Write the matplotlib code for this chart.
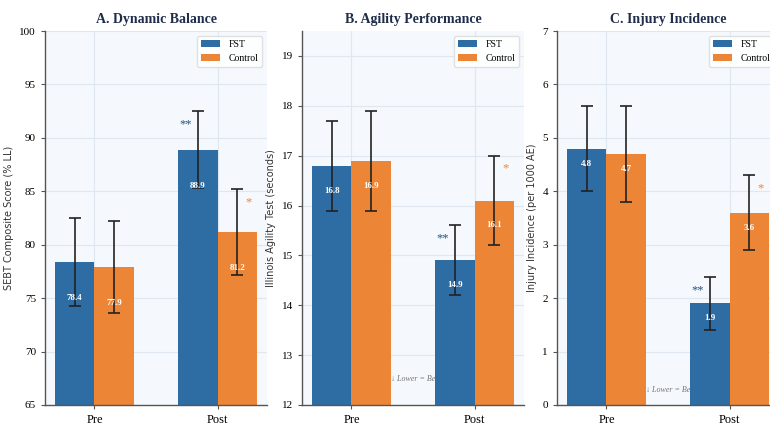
import numpy as np
import matplotlib
matplotlib.use("Agg")
import matplotlib.pyplot as plt

phases = ["Pre", "Post"]
groups = ["FST", "Control"]

balance_fst = [78.4, 88.9]
balance_fst_sd = [4.1, 3.6]
balance_ctl = [77.9, 81.2]
balance_ctl_sd = [4.3, 4.0]

agility_fst = [16.8, 14.9]
agility_fst_sd = [0.9, 0.7]
agility_ctl = [16.9, 16.1]
agility_ctl_sd = [1.0, 0.9]

injury_fst = [4.8, 1.9]
injury_fst_sd = [0.8, 0.5]
injury_ctl = [4.7, 3.6]
injury_ctl_sd = [0.9, 0.7]

titles = ["A. Dynamic Balance", "B. Agility Performance", "C. Injury Incidence"]
ylabels = ["SEBT Composite Score (% LL)", "Illinois Agility Test (seconds)",
           "Injury Incidence (per 1000 AE)"]

FST_C = "#2e6ca4"
CTL_C = "#ec8536"

plt.rcParams["font.family"] = ["Liberation Serif", "DejaVu Serif"]

fig = plt.figure(figsize=(7.7, 4.25), dpi=100)
lefts = [45, 302, 557]
panels = [
    (balance_fst, balance_fst_sd, balance_ctl, balance_ctl_sd, (65, 100), np.arange(65, 101, 5), 3.4, None),
    (agility_fst, agility_fst_sd, agility_ctl, agility_ctl_sd, (12, 19.5), np.arange(12, 20, 1), 0.5, 0.06),
    (injury_fst, injury_fst_sd, injury_ctl, injury_ctl_sd, (0, 7), np.arange(0, 8, 1), 0.28, 0.03),
]

x = np.arange(len(phases))
w = 0.32
for i, (fst, fsd, ctl, csd, ylim, yt, off, note_y) in enumerate(panels):
    ax = fig.add_axes([lefts[i] / 770, 20 / 425, 222 / 770, 374 / 425])
    ax.set_facecolor("#f5f8fc")
    ax.grid(True, color="#dfe7f0", linewidth=0.8, zorder=0)
    ax.set_axisbelow(True)
    for s in ["top", "right"]:
        ax.spines[s].set_visible(False)
    for s in ["left", "bottom"]:
        ax.spines[s].set_color("#555555")
        ax.spines[s].set_linewidth(1.0)

    if note_y is not None:
        ax.text(x[0] + w + 0.005, note_y, "↓ Lower = Better",
                transform=ax.get_xaxis_transform(), ha="left", va="bottom",
                fontsize=5.8, style="italic", color="#777777", zorder=1)

    ax.bar(x - w / 2, fst, w, color=FST_C, label=groups[0], zorder=2)
    ax.bar(x + w / 2, ctl, w, color=CTL_C, label=groups[1], zorder=2)
    ax.errorbar(x - w / 2, fst, yerr=fsd, fmt="none", ecolor="#222222", elinewidth=1.4,
                capsize=4, capthick=1.4, alpha=0.85, zorder=3)
    ax.errorbar(x + w / 2, ctl, yerr=csd, fmt="none", ecolor="#222222", elinewidth=1.4,
                capsize=4, capthick=1.4, alpha=0.85, zorder=3)

    for xi, v in zip(x - w / 2, fst):
        ax.text(xi, v - off, f"{v:.1f}", ha="center", va="center", color="white",
                fontsize=6.5, fontweight="bold", zorder=4)
    for xi, v in zip(x + w / 2, ctl):
        ax.text(xi, v - off, f"{v:.1f}", ha="center", va="center", color="white",
                fontsize=6.5, fontweight="bold", zorder=4)

    # significance marks on the post-test bars
    rng = ylim[1] - ylim[0]
    ax.text(x[1] - w / 2 - 0.1, fst[1] + fsd[1] - 0.035 * rng, "**", ha="center",
            va="center", color="#24557f", fontsize=9, zorder=4)
    ax.text(x[1] + w / 2 + 0.09, ctl[1] + csd[1] - 0.035 * rng, "*", ha="center",
            va="center", color=CTL_C, fontsize=9, zorder=4)

    ax.set_ylim(*ylim)
    ax.set_yticks(yt)
    ax.set_xticks(x)
    ax.set_xticklabels(phases, fontsize=9)
    ax.tick_params(axis="y", labelsize=8, length=3, color="#555555")
    ax.tick_params(axis="x", length=3, color="#555555")
    ax.set_ylabel(ylabels[i], fontsize=7, family="DejaVu Sans", color="#333333")
    ax.set_title(titles[i], fontsize=10, fontweight="bold", color="#1f2d4a", pad=6)
    ax.legend(loc="upper right", fontsize=7, frameon=True, framealpha=0.9,
              edgecolor="#dddddd", handlelength=2.0)

fig.savefig("out.png", dpi=100, facecolor="white")
